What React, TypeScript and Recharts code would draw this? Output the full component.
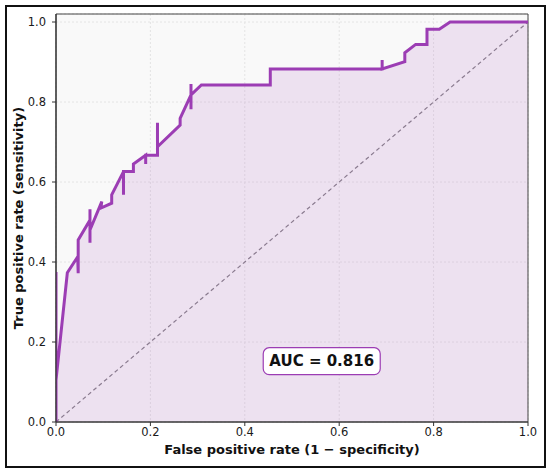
import React from 'react';
import {
  ComposedChart, Area, Line, XAxis, YAxis, CartesianGrid, ReferenceLine, ReferenceArea, ReferenceDot, Label,
} from 'recharts';

// ROC path (false positive rate, true positive rate), in drawing order
const fprValues = [
  0, 0, 0, 0.024, 0.046, 0.047, 0.047, 0.072, 0.072, 0.072, 0.072, 0.097, 0.095, 0.118, 0.118,
  0.143, 0.143, 0.143, 0.164, 0.164, 0.19, 0.19, 0.19, 0.215, 0.215, 0.215, 0.263, 0.263,
  0.286, 0.286, 0.286, 0.286, 0.308, 0.454, 0.454, 0.691, 0.691, 0.691, 0.739, 0.739, 0.762,
  0.786, 0.786, 0.812, 0.835, 1.0,
];
const tprValues = [
  0, 0.375, 0.105, 0.373, 0.413, 0.372, 0.455, 0.505, 0.532, 0.448, 0.48, 0.551, 0.535, 0.547, 0.568,
  0.626, 0.568, 0.626, 0.626, 0.645, 0.667, 0.645, 0.667, 0.667, 0.748, 0.688, 0.7425, 0.759,
  0.8175, 0.845, 0.782, 0.8175, 0.8425, 0.8425, 0.8825, 0.8825, 0.905, 0.8825, 0.901, 0.923, 0.944,
  0.944, 0.982, 0.982, 1.0, 1.0,
];
const xTicks = [0, 0.2, 0.4, 0.6, 0.8, 1.0];
const yTicks = [0, 0.2, 0.4, 0.6, 0.8, 1.0];
const aucValue = 0.816;
const aucPos = { x: 0.563, y: 0.152 };

const data = fprValues.map((f, i) => ({ fpr: f, tpr: tprValues[i] }));

const FONT = '"DejaVu Sans", sans-serif';
const PURPLE = '#9c3db4';

const AucBox = (props: any) => {
  const { cx, cy } = props;
  const w = 117;
  const h = 27;
  return (
    <g>
      <rect x={cx - w / 2} y={cy - h / 2} width={w} height={h} rx={6} ry={6}
        fill="#ffffff" stroke={PURPLE} strokeWidth={1.2} />
      <text x={cx} y={cy} textAnchor="middle" dominantBaseline="central"
        fontFamily={FONT} fontWeight="bold" fontSize={15} fill="#111">
        {`AUC = ${aucValue.toFixed(3)}`}
      </text>
    </g>
  );
};

export default function App() {
  return (
    <div style={{ position: 'absolute', left: 0, top: 0, width: 550, height: 471, background: '#fff' }}>
      <div style={{
        position: 'absolute', left: 5, top: 5, width: 537, height: 459,
        border: '2px solid #111', pointerEvents: 'none',
      }} />
      <ComposedChart width={550} height={471} data={data}
        margin={{ top: 14, right: 22, bottom: 9, left: 6 }}>
        <CartesianGrid fill="#f9f9f9" stroke="#e4e4e4" strokeDasharray="2 2"
          vertical horizontal />
        <XAxis type="number" dataKey="fpr" domain={[0, 1]} ticks={xTicks} height={40}
          tickFormatter={(v: number) => v.toFixed(1)} tickSize={4} tickMargin={2}
          axisLine={{ stroke: '#333', strokeWidth: 1.2 }} tickLine={{ stroke: '#333' }}
          tick={{ fontFamily: FONT, fontSize: 11.5, fill: '#1a1a1a' }} allowDataOverflow>
          <Label value="False positive rate (1 − specificity)" position="insideBottom" offset={8}
            style={{ fontFamily: FONT, fontSize: 13, fontWeight: 'bold', fill: '#111' }} />
        </XAxis>
        <YAxis type="number" domain={[0, 1.02]} ticks={yTicks} width={50}
          tickFormatter={(v: number) => v.toFixed(1)} tickSize={4} tickMargin={6}
          axisLine={{ stroke: '#333', strokeWidth: 1.2 }} tickLine={{ stroke: '#333' }}
          tick={{ fontFamily: FONT, fontSize: 11.5, fill: '#1a1a1a' }} allowDataOverflow>
          <Label value="True positive rate (sensitivity)" angle={-90} position="insideLeft" offset={12}
            style={{ fontFamily: FONT, fontSize: 13, fontWeight: 'bold', fill: '#111', textAnchor: 'middle' }} />
        </YAxis>
        <Area type="linear" dataKey="tpr" stroke="none" fill={PURPLE} fillOpacity={0.12}
          isAnimationActive={false} baseValue={0} />
        <ReferenceLine segment={[{ x: 0, y: 0 }, { x: 1, y: 1 }]} stroke="#8a7b8f"
          strokeDasharray="4 3" strokeWidth={1.2} />
        <Line type="linear" dataKey="tpr" stroke={PURPLE} strokeWidth={3} dot={false}
          isAnimationActive={false} strokeLinejoin="miter" />
        <ReferenceArea x1={0} x2={1} y1={0} y2={1.02} fill="none" stroke="#444" strokeWidth={1} />
        <ReferenceDot x={aucPos.x} y={aucPos.y} shape={AucBox} />
      </ComposedChart>
    </div>
  );
}
